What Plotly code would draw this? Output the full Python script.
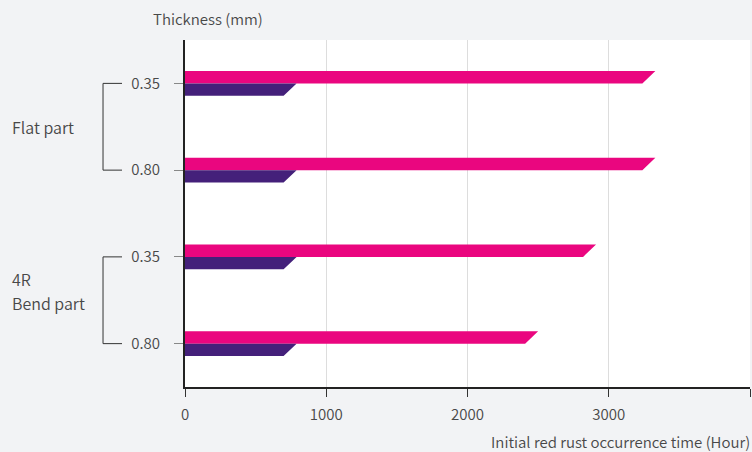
import plotly.graph_objects as go

# ---- data ----
categories = ["0.35", "0.80", "0.35", "0.80"]
groups = ["Flat part", "4R<br>Bend part"]
pink_values = [3330, 3330, 2910, 2500]
purple_values = [790, 790, 790, 790]
x_tick_vals = [0, 1000, 2000, 3000, 4000]
x_tick_text = ["0", "1000", "2000", "3000", ""]

# ---- style ----
PINK = "#EA067F"
PURPLE = "#44207A"
BAR_H = 0.144
SLANT = 92  # horizontal cut of bar end, in data units
FONT = "Noto Sans CJK KR"
TXT = "#484848"
W = 350
LINE_GAP = 24

def polys(values, top):
    xs, ys = [], []
    for i, v in enumerate(values):
        y0 = i - BAR_H if top else i
        y1 = i if top else i + BAR_H
        xs += [0, v, v - SLANT, 0, 0, None]
        ys += [y0, y0, y1, y1, y0, None]
    return xs, ys

fig = go.Figure()
for vals, col, top in [(pink_values, PINK, True), (purple_values, PURPLE, False)]:
    xs, ys = polys(vals, top)
    fig.add_trace(go.Scatter(x=xs, y=ys, mode="lines", fill="toself",
                             fillcolor=col, line=dict(width=0, color=col),
                             hoverinfo="skip", showlegend=False))

fig.update_layout(
    width=752, height=452,
    margin=dict(l=185, r=2, t=40, b=65),
    paper_bgcolor="#F2F3F5", plot_bgcolor="#FFFFFF",
    font=dict(family=FONT, color=TXT, size=15, weight=W),
    showlegend=False,
)
fig.update_xaxes(range=[0, 4000], tickvals=x_tick_vals, ticktext=x_tick_text,
                 showgrid=True, gridcolor="#DDDDDD", gridwidth=1,
                 showline=True, linecolor="#222222", linewidth=2,
                 ticks="outside", ticklen=8, tickcolor="#333333",
                 ticklabelstandoff=5,
                 zeroline=False, tickfont=dict(size=15, color=TXT, weight=W))
fig.update_yaxes(range=[3.5, -0.5], tickvals=list(range(len(categories))),
                 ticktext=categories, showgrid=False, zeroline=False,
                 showline=True, linecolor="#222222", linewidth=2,
                 ticks="outside", ticklen=9, tickcolor="#888888",
                 ticklabelstandoff=11,
                 tickfont=dict(size=15, color=TXT, weight=W))

# axis titles
fig.add_annotation(text="Thickness (mm)", xref="paper", yref="paper",
                   x=0.041, y=1.0, yshift=22, xanchor="center", yanchor="middle",
                   showarrow=False, font=dict(size=15, color=TXT, weight=W))
fig.add_annotation(text="Initial red rust occurrence time (Hour)", xref="paper", yref="paper",
                   x=1.0, xshift=2, y=0, yshift=-54, xanchor="right", yanchor="middle",
                   showarrow=False, font=dict(size=15, color=TXT, weight=W))

# group brackets
bx0, bx1 = -0.1451, -0.1115
label_shift = [0, 9]
for gi, (g, (a, b)) in enumerate(zip(groups, [(0, 1), (2, 3)])):
    fig.add_shape(type="path", xref="paper", yref="y",
                  path=f"M {bx1} {a} L {bx0} {a} L {bx0} {b} L {bx1} {b}",
                  line=dict(color="#333333", width=1))
    lines = g.split("<br>")
    n = len(lines)
    for li, txt in enumerate(lines):
        off = ((n - 1) / 2 - li) * LINE_GAP
        fig.add_annotation(text=txt, xref="paper", yref="y", x=-0.31, y=(a + b) / 2,
                           yshift=label_shift[gi] + off,
                           xanchor="left", yanchor="middle", align="left",
                           showarrow=False, font=dict(size=16, color=TXT, weight=W))

fig.write_html("out.html", config={"displayModeBar": False},
               post_script="document.body.style.margin='0';document.body.style.background='#F2F3F5';")
